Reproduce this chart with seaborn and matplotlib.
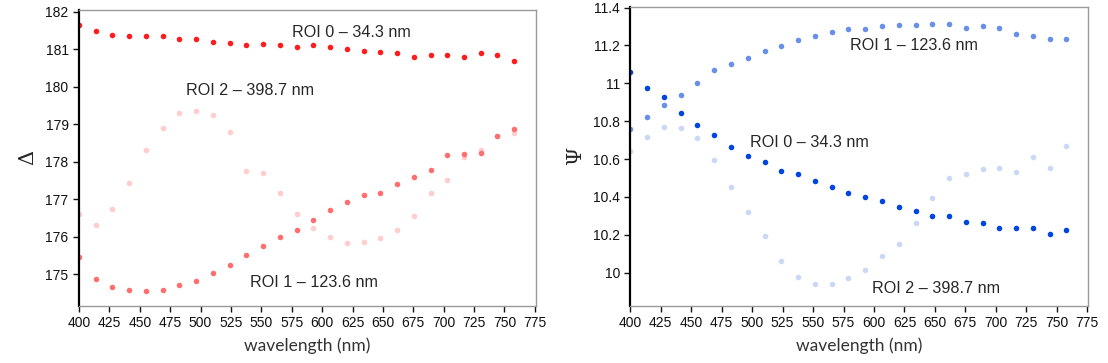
# Ellipsometry angles Delta and Psi vs wavelength for three ROIs
import pandas as pd
import matplotlib.pyplot as plt
import seaborn as sns

# wavelength grid (nm)
wavelength = [400.0, 413.8, 427.5, 441.3, 455.1, 468.8, 482.6, 496.4, 510.2,
              523.9, 537.7, 551.5, 565.2, 579.0, 592.8, 606.5, 620.3, 634.1,
              647.8, 661.6, 675.4, 689.2, 702.9, 716.7, 730.5, 744.2, 758.0]

# Delta (deg)
delta_roi0 = [181.63, 181.48, 181.38, 181.35, 181.35, 181.35, 181.28, 181.26, 181.18,
              181.16, 181.10, 181.13, 181.10, 181.06, 181.10, 181.06, 181.00, 180.96,
              180.93, 180.89, 180.79, 180.84, 180.84, 180.79, 180.89, 180.84, 180.67]
delta_roi1 = [175.47, 174.87, 174.67, 174.58, 174.55, 174.58, 174.71, 174.83, 175.03,
              175.25, 175.51, 175.75, 175.98, 176.18, 176.44, 176.72, 176.92, 177.11,
              177.15, 177.40, 177.60, 177.78, 178.17, 178.20, 178.24, 178.68, 178.87]
delta_roi2 = [176.60, 176.31, 176.73, 177.44, 178.30, 178.90, 179.29, 179.35, 179.23,
              178.78, 177.76, 177.69, 177.17, 176.60, 176.24, 175.98, 175.82, 175.86,
              175.96, 176.18, 176.56, 177.17, 177.50, 178.13, 178.30, 178.68, 178.77]

# Psi (deg)
psi_roi0 = [11.060, 10.977, 10.927, 10.842, 10.780, 10.729, 10.666, 10.615, 10.583,
            10.536, 10.519, 10.485, 10.454, 10.423, 10.402, 10.377, 10.346, 10.326,
            10.300, 10.300, 10.270, 10.263, 10.236, 10.236, 10.236, 10.205, 10.224]
psi_roi1 = [10.759, 10.823, 10.886, 10.937, 11.002, 11.072, 11.104, 11.136, 11.173,
            11.199, 11.231, 11.251, 11.270, 11.287, 11.287, 11.303, 11.309, 11.309,
            11.314, 11.314, 11.294, 11.303, 11.294, 11.263, 11.251, 11.236, 11.236]
psi_roi2 = [10.645, 10.715, 10.771, 10.766, 10.710, 10.594, 10.453, 10.319, 10.192,
            10.063, 9.976, 9.942, 9.938, 9.970, 10.014, 10.090, 10.153, 10.264,
            10.396, 10.499, 10.523, 10.548, 10.555, 10.530, 10.613, 10.555, 10.669]

xticks = [400, 425, 450, 475, 500, 525, 550, 575, 600, 625, 650, 675, 700, 725, 750, 775]
delta_ticks = [175, 176, 177, 178, 179, 180, 181, 182]
psi_ticks = [10.0, 10.2, 10.4, 10.6, 10.8, 11.0, 11.2, 11.4]
psi_ticklabels = ['10', '10.2', '10.4', '10.6', '10.8', '11', '11.2', '11.4']

red_colors = ['#ff1c1c', '#ff6f6f', '#ffcdcd']
blue_colors = ['#0045de', '#6890e8', '#cad8f6']

sns.set_style('white')
plt.rcParams['font.family'] = ['Liberation Sans', 'DejaVu Sans']

fig = plt.figure(figsize=(11.08, 3.63), dpi=100)
ax1 = fig.add_axes([0.0713, 0.158, 0.4125, 0.8154])
ax2 = fig.add_axes([0.5689, 0.158, 0.4134, 0.8237])


def draw_panel(ax, series, colors):
    # draw the faintest series first so stronger dots sit on top
    for vals, col in reversed(list(zip(series, colors))):
        df = pd.DataFrame({'wavelength': wavelength, 'value': vals})
        sns.scatterplot(data=df, x='wavelength', y='value', ax=ax, color=col,
                        s=16, linewidth=0, edgecolor=None, legend=False)
    ax.set_xlim(400, 776)
    ax.set_xticks(xticks)
    ax.set_xlabel('wavelength (nm)', family='Lato', fontsize=12.5, color='#333333', labelpad=5)
    ax.tick_params(axis='both', direction='out', length=4, width=1, colors='#111111',
                   labelsize=10, left=True, bottom=True)
    for side in ['top', 'right', 'bottom']:
        ax.spines[side].set_color('#9a9a9a')
        ax.spines[side].set_linewidth(1)
    ax.spines['left'].set_color('black')
    ax.spines['left'].set_linewidth(1.6)


# left panel: Delta
draw_panel(ax1, [delta_roi0, delta_roi1, delta_roi2], red_colors)
ax1.set_ylim(174.16, 182.05)
ax1.set_yticks(delta_ticks)
ax1.set_ylabel('Δ', family='DejaVu Serif', fontsize=15, labelpad=6)
ax1.text(575, 181.45, 'ROI 0 – 34.3 nm', fontsize=11.6, va='center')
ax1.text(488, 179.9, 'ROI 2 – 398.7 nm', fontsize=11.6, va='center')
ax1.text(541, 174.78, 'ROI 1 – 123.6 nm', fontsize=11.6, va='center')

# right panel: Psi
draw_panel(ax2, [psi_roi0, psi_roi1, psi_roi2], blue_colors)
ax2.set_ylim(9.826, 11.405)
ax2.set_yticks(psi_ticks)
ax2.set_yticklabels(psi_ticklabels)
ax2.set_ylabel('Ψ', family='DejaVu Serif', fontsize=15, labelpad=6)
ax2.text(580, 11.20, 'ROI 1 – 123.6 nm', fontsize=11.6, va='center')
ax2.text(498, 10.689, 'ROI 0 – 34.3 nm', fontsize=11.6, va='center')
ax2.text(598, 9.918, 'ROI 2 – 398.7 nm', fontsize=11.6, va='center')

plt.savefig('out.png', dpi=100)
